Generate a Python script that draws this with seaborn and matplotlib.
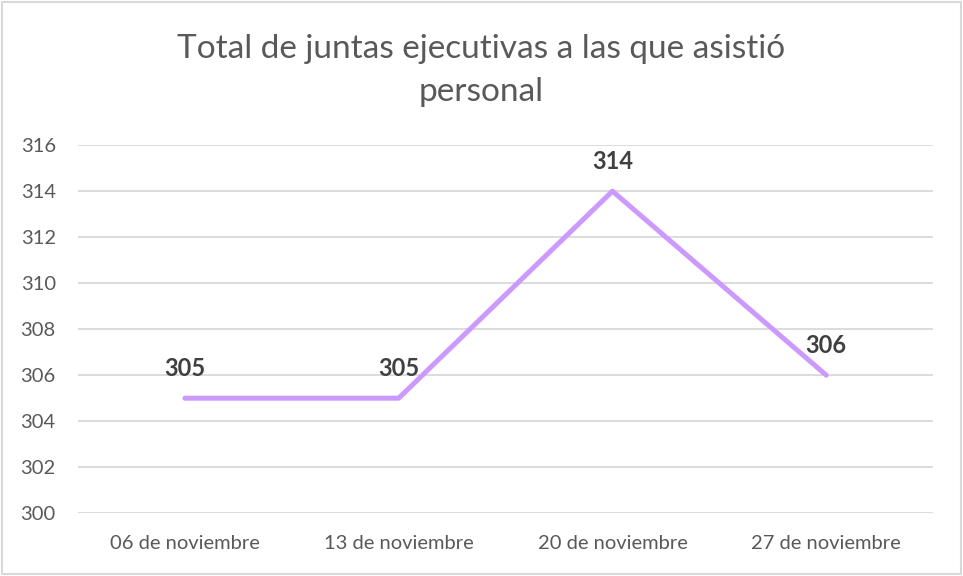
import matplotlib
matplotlib.use("Agg")
import matplotlib.pyplot as plt
import seaborn as sns
import pandas as pd

# data
fechas = ["06 de noviembre", "13 de noviembre", "20 de noviembre", "27 de noviembre"]
asistencias = [305, 305, 314, 306]
y_ticks = [300, 302, 304, 306, 308, 310, 312, 314, 316]

df = pd.DataFrame({"fecha": fechas, "total": asistencias})

sns.set_theme(style="white")
plt.rcParams["font.family"] = ["Lato", "DejaVu Sans"]

fig = plt.figure(figsize=(9.63, 5.76), dpi=100)
ax = fig.add_axes([0.081, 0.109, 0.888, 0.639])

sns.lineplot(data=df, x="fecha", y="total", ax=ax, color="#CC99FF",
             linewidth=3.6, sort=False)

for i, v in enumerate(asistencias):
    ax.annotate(str(v), (i, v), xytext=(0, 13), textcoords="offset points",
                ha="center", va="bottom", fontsize=17, fontweight="bold",
                color="#404040")

ax.set_xlim(-0.5, len(fechas) - 0.5)
ax.set_ylim(300, 316)
ax.set_yticks(y_ticks)
ax.set_xlabel("")
ax.set_ylabel("")
ax.grid(axis="y", color="#D9D9D9", linewidth=1.3)
ax.set_axisbelow(True)
for s in ax.spines.values():
    s.set_visible(False)
ax.tick_params(axis="y", length=0, labelsize=14.5, colors="#595959", pad=16)
ax.tick_params(axis="x", length=0, labelsize=14.5, colors="#595959", pad=16)

fig.text(0.5, 0.878, "Total de juntas ejecutivas a las que asistió\npersonal",
         ha="center", va="center", fontsize=24, color="#595959",
         linespacing=1.55)

# light border around the chart area
fig.patches.append(plt.Rectangle((0.002, 0.003), 0.996, 0.994,
                                 transform=fig.transFigure, fill=False,
                                 edgecolor="#D9D9D9", linewidth=1.5))

fig.savefig("out.png", dpi=100)
